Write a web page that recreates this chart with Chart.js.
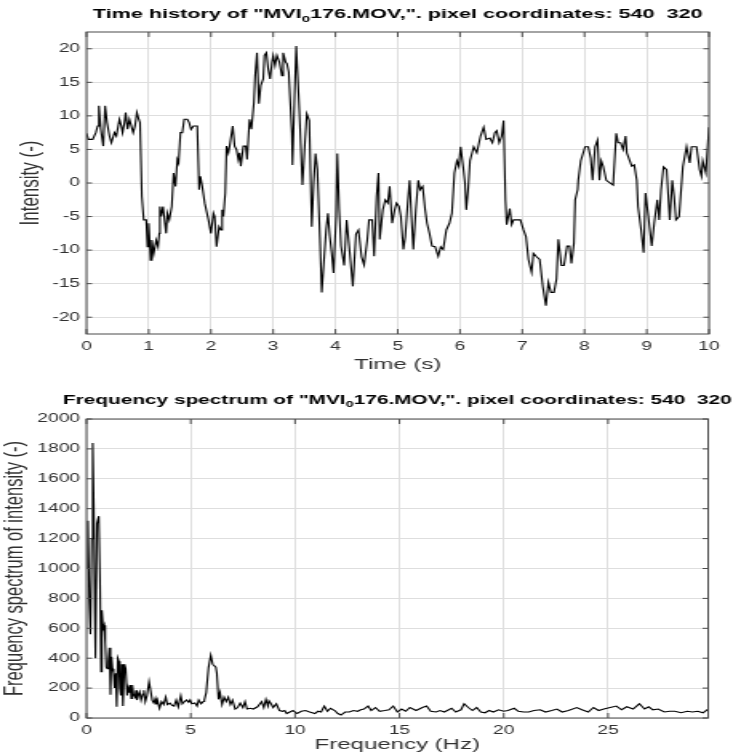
<!DOCTYPE html>
<html>
<head>
<meta charset="utf-8">
<script src="https://cdn.jsdelivr.net/npm/chart.js@4/dist/chart.umd.min.js"></script>
<style>
  body { margin: 0; background: #fff; }
  canvas { display: block; }
</style>
</head>
<body>
<!-- canvases are drawn narrow and stretched sideways, like the original figure -->
<canvas id="timeChart" width="463" height="375" style="width:741px;height:375px"></canvas>
<canvas id="freqChart" width="463" height="380" style="width:741px;height:380px"></canvas>
<script>
// Time history (s, intensity)
const timeS = [0, 0.03, 0.1, 0.15, 0.18, 0.2, 0.23, 0.27, 0.3, 0.33, 0.37, 0.4, 0.45, 0.48, 0.53, 0.56, 0.58, 0.61, 0.63, 0.66,
  0.69, 0.72, 0.75, 0.78, 0.81, 0.84, 0.86, 0.89, 0.92, 0.96, 0.98, 1.0, 1.03, 1.05, 1.08, 1.12, 1.15, 1.17, 1.18, 1.2,
  1.23, 1.26, 1.28, 1.3, 1.33, 1.37, 1.4, 1.43, 1.46, 1.48, 1.51, 1.54, 1.57, 1.62, 1.65, 1.68, 1.72, 1.78, 1.81, 1.83,
  1.86, 1.9, 1.96, 2.0, 2.04, 2.06, 2.09, 2.13, 2.16, 2.18, 2.2, 2.23, 2.25, 2.28, 2.3, 2.35, 2.38, 2.41, 2.44, 2.46,
  2.48, 2.52, 2.56, 2.58, 2.62, 2.65, 2.69, 2.71, 2.74, 2.77, 2.8, 2.84, 2.86, 2.89, 2.92, 2.95, 2.98, 3.0, 3.03, 3.06,
  3.1, 3.14, 3.16, 3.2, 3.22, 3.25, 3.3, 3.31, 3.34, 3.37, 3.42, 3.47, 3.51, 3.54, 3.58, 3.62, 3.65, 3.68, 3.71, 3.75,
  3.78, 3.82, 3.85, 3.88, 3.91, 3.94, 3.97, 4.01, 4.03, 4.06, 4.09, 4.14, 4.18, 4.22, 4.28, 4.33, 4.37, 4.42, 4.46, 4.51,
  4.54, 4.59, 4.62, 4.66, 4.69, 4.71, 4.76, 4.8, 4.84, 4.87, 4.91, 4.95, 4.98, 5.02, 5.05, 5.09, 5.12, 5.16, 5.19, 5.22,
  5.25, 5.29, 5.33, 5.36, 5.4, 5.44, 5.47, 5.51, 5.55, 5.6, 5.65, 5.69, 5.73, 5.78, 5.83, 5.87, 5.91, 5.95, 5.98, 6.01,
  6.05, 6.08, 6.1, 6.13, 6.16, 6.22, 6.27, 6.33, 6.38, 6.42, 6.48, 6.52, 6.56, 6.59, 6.63, 6.67, 6.7, 6.73, 6.75, 6.8,
  6.83, 6.86, 6.97, 7.02, 7.06, 7.1, 7.15, 7.18, 7.23, 7.28, 7.33, 7.38, 7.42, 7.46, 7.51, 7.55, 7.58, 7.63, 7.67, 7.72,
  7.76, 7.79, 7.83, 7.85, 7.89, 7.9, 7.94, 8.01, 8.06, 8.1, 8.13, 8.17, 8.21, 8.24, 8.27, 8.3, 8.35, 8.46, 8.51, 8.54,
  8.58, 8.62, 8.66, 8.68, 8.76, 8.8, 8.84, 8.86, 8.91, 8.95, 8.98, 9.02, 9.08, 9.12, 9.17, 9.2, 9.23, 9.27, 9.32, 9.37,
  9.41, 9.44, 9.47, 9.52, 9.58, 9.64, 9.69, 9.72, 9.76, 9.8, 9.85, 9.88, 9.9, 9.95, 10.0]
const intensity = [7.4, 6.5, 6.5, 7.5, 8.5, 11.5, 8, 5.5, 11.5, 9, 7, 6, 7.5, 7, 9.5, 8.5, 7.5, 9, 10.5, 8,
  9.5, 8.5, 7.5, 8.5, 10.5, 9.5, 9, -2, -5.5, -5.5, -9.5, -6, -11.5, -8.5, -10.5, -8.5, -9.5, -7.5, -3.5, -5,
  -3.5, -6, -7.5, -4.5, -5.5, -3.5, 1.5, -0.5, 3.5, 3, 7.5, 7.5, 9.5, 9.5, 9, 8, 8.5, 8.5, -1, 1,
  -0.5, -3, -5.5, -7.5, -4.5, -5, -9.5, -6.5, -7, -4, -5, -1.5, 5.5, 4.5, 5.5, 8.5, 5.5, 5, 3.5, 4.5,
  2.5, 5.5, 5.5, 3.5, 9.5, 8, 12, 16, 19.4, 11.8, 14.5, 15.5, 19, 19.4, 17, 15.5, 18, 19, 17.5, 19,
  18, 16, 19.4, 18, 17.8, 16.5, 7.4, 2.7, 12, 20.4, 10.8, -0.3, 6, 10.3, 9.3, -6.5, 0, 4.4, 2, -8,
  -16.3, -11, -7, -4.5, -8, -10.4, -13.4, -5, 4.4, -4, -9.4, -12.3, -5.5, -9.4, -15.4, -7.6, -7, -11, -12.2, -8.6,
  -5.5, -5.5, -10.9, -2, 1.5, -8.4, -4, -2.5, -3, -0.5, -6, -4, -3, -3.5, -5, -9.9, -8, -3, 0.4, -5,
  -9.9, -4, 0.4, -1, -0.5, -4, -6, -7.5, -9.4, -9.5, -10.9, -9.5, -9.9, -7, -6, -4.5, 1.5, 3.3, 2.5, 5.4,
  2.5, 0, -4, -1, 3.3, 5.4, 4.5, 7, 8.3, 6.5, 6.7, 6, 7.5, 7.8, 6, 7, 9.3, -2.5, -6.2, -3.8,
  -6.2, -5.5, -5.5, -7, -8, -11.4, -13.3, -10.5, -11, -11.4, -15.4, -18.3, -14.8, -16.3, -16.3, -14.3, -8.4, -12.3, -12.3, -9.4,
  -9.4, -12, -9, -2.5, -1, 0.4, 3.3, 5.4, 5.4, 3.7, 0.4, 5.4, 6.4, 0.4, 3.3, 2.5, 0.4, -0.3, 7.4, 6,
  6, 5, 7, 4.5, 2.5, 2.7, 0.4, -3.5, -7, -10.4, -1.5, -4.5, -9.4, -6, -2.5, -5.5, -1, 2.4, 2, -5.5,
  0.4, -2, -5.5, -5, 2.4, 5.4, 3, 5.4, 5.4, 5.4, 2, 1, 3.3, 1.5, 8.3]

// Frequency spectrum (Hz, spectrum of intensity)
const freqHz = [0, 0.07, 0.13, 0.19, 0.25, 0.3, 0.35, 0.4, 0.43, 0.5, 0.59, 0.65, 0.7, 0.74, 0.8, 0.85, 0.9, 0.95, 1.0, 1.05,
  1.1, 1.15, 1.2, 1.25, 1.3, 1.35, 1.4, 1.45, 1.5, 1.55, 1.6, 1.65, 1.7, 1.75, 1.82, 1.88, 1.95, 2.0, 2.05, 2.1,
  2.15, 2.2, 2.25, 2.33, 2.38, 2.42, 2.5, 2.55, 2.62, 2.7, 2.75, 2.82, 2.9, 3.0, 3.08, 3.15, 3.23, 3.3, 3.35, 3.4,
  3.5, 3.6, 3.7, 3.8, 3.88, 4.0, 4.1, 4.2, 4.3, 4.4, 4.52, 4.6, 4.7, 4.8, 4.9, 4.97, 5.05, 5.2, 5.3, 5.38,
  5.5, 5.6, 5.65, 5.74, 5.85, 5.96, 6.05, 6.12, 6.2, 6.25, 6.33, 6.4, 6.5, 6.6, 6.7, 6.8, 6.9, 7.0, 7.13, 7.25,
  7.37, 7.5, 7.6, 7.7, 7.85, 8.0, 8.2, 8.4, 8.5, 8.6, 8.7, 8.75, 8.85, 8.95, 9.1, 9.25, 9.4, 9.5, 9.6, 9.75,
  9.9, 10.1, 10.3, 10.5, 10.7, 10.95, 11.1, 11.25, 11.4, 11.55, 11.7, 11.9, 12.05, 12.2, 12.4, 12.6, 12.8, 13.0, 13.15, 13.3,
  13.5, 13.65, 13.85, 14.05, 14.3, 14.5, 14.7, 14.9, 15.1, 15.3, 15.5, 15.8, 16.1, 16.3, 16.5, 16.75, 16.95, 17.15, 17.5, 17.7,
  17.95, 18.1, 18.3, 18.5, 18.7, 18.9, 19.1, 19.3, 19.5, 19.75, 20.0, 20.2, 20.5, 20.7, 20.95, 21.2, 21.45, 21.75, 22.0, 22.3,
  22.55, 22.8, 23.1, 23.5, 23.75, 24.05, 24.3, 24.55, 24.8, 25.1, 25.4, 25.65, 25.9, 26.2, 26.5, 26.75, 26.95, 27.15, 27.4, 27.7,
  27.95, 28.2, 28.5, 28.8, 29.05, 29.3, 29.55, 29.8]
const spectrum = [1000, 1320, 800, 560, 1200, 1840, 1430, 700, 400, 1300, 1350, 900, 310, 720, 600, 620, 500, 340, 330, 380,
  470, 155, 410, 330, 300, 200, 300, 75, 400, 380, 200, 150, 360, 80, 360, 330, 150, 200, 170, 220,
  130, 220, 160, 140, 185, 120, 160, 175, 120, 160, 185, 110, 150, 243, 180, 120, 100, 130, 90, 120,
  65, 110, 90, 140, 90, 100, 85, 80, 120, 75, 150, 95, 110, 120, 105, 120, 95, 100, 80, 120,
  95, 110, 120, 170, 335, 420, 360, 350, 340, 300, 125, 170, 90, 140, 110, 140, 90, 120, 60, 70,
  100, 70, 110, 60, 65, 60, 75, 110, 70, 125, 80, 115, 95, 70, 95, 50, 45, 50, 30, 40,
  50, 30, 45, 50, 40, 30, 45, 40, 80, 45, 65, 50, 30, 20, 40, 40, 50, 45, 55, 60,
  80, 50, 70, 45, 50, 55, 80, 40, 60, 45, 70, 50, 70, 80, 45, 40, 50, 40, 65, 40,
  55, 95, 70, 50, 70, 40, 35, 50, 40, 55, 45, 50, 65, 45, 40, 40, 50, 55, 40, 50,
  60, 40, 50, 70, 55, 40, 70, 50, 60, 70, 80, 55, 75, 60, 95, 60, 75, 55, 60, 40,
  45, 45, 35, 45, 40, 45, 35, 60]

// axis limits and tick labels
const timeRange = [0, 10]
const timeTickValues = [0, 1, 2, 3, 4, 5, 6, 7, 8, 9, 10]
const intensityRange = [-22.5, 22.5]
const intensityTickValues = [-20, -15, -10, -5, 0, 5, 10, 15, 20]
const freqRange = [0, 29.8]
const freqTickValues = [0, 5, 10, 15, 20, 25]
const spectrumRange = [0, 2000]
const spectrumTickValues = [0, 200, 400, 600, 800, 1000, 1200, 1400, 1600, 1800, 2000]

const fileLabel = ['"MVI', '0', '176.MOV,". pixel coordinates: 540  320']

const FONT = "'Liberation Sans', Arial, Helvetica, sans-serif"
const TEXT = '#303030'

// title with a subscript, drawn over the plot area
const titlePlugin = {
  id: 'subTitle',
  afterDraw(chart, args, opts) {
    const { ctx, chartArea } = chart
    const parts = [opts.head + fileLabel[0], fileLabel[1], fileLabel[2]]
    const big = 'bold ' + opts.size + 'px ' + FONT
    const small = 'bold ' + (opts.size - 4) + 'px ' + FONT
    ctx.save()
    ctx.fillStyle = '#000'
    ctx.textBaseline = 'middle'
    ctx.font = big
    const w0 = ctx.measureText(parts[0]).width
    const w2 = ctx.measureText(parts[2]).width
    ctx.font = small
    const w1 = ctx.measureText(parts[1]).width
    let x = (chartArea.left + chartArea.right) / 2 - (w0 + w1 + w2) / 2
    ctx.font = big
    ctx.fillText(parts[0], x, opts.y)
    x += w0
    ctx.font = small
    ctx.fillText(parts[1], x, opts.y + 5)
    x += w1
    ctx.font = big
    ctx.fillText(parts[2], x, opts.y)
    ctx.restore()
  }
}

// box round the axes with inward tick marks
const boxPlugin = {
  id: 'axesBox',
  afterDraw(chart) {
    const { ctx, chartArea: a, scales: { x, y } } = chart
    ctx.save()
    ctx.strokeStyle = '#4a4a4a'
    ctx.lineWidth = 1
    ctx.strokeRect(a.left, a.top, a.right - a.left, a.bottom - a.top)
    ctx.beginPath()
    x.ticks.forEach(t => {
      const px = x.getPixelForValue(t.value)
      ctx.moveTo(px, a.bottom); ctx.lineTo(px, a.bottom - 5)
      ctx.moveTo(px, a.top); ctx.lineTo(px, a.top + 5)
    })
    y.ticks.forEach(t => {
      const py = y.getPixelForValue(t.value)
      ctx.moveTo(a.left, py); ctx.lineTo(a.left + 3.5, py)
      ctx.moveTo(a.right, py); ctx.lineTo(a.right - 3.5, py)
    })
    ctx.stroke()
    ctx.restore()
  }
}

function makeChart(id, xs, ys, cfg) {
  const points = xs.map((v, i) => ({ x: v, y: ys[i] }))
  return new Chart(document.getElementById(id), {
    type: 'line',
    data: {
      datasets: [{
        data: points,
        borderColor: '#000',
        borderWidth: 1.1,
        pointRadius: 0,
        tension: 0,
      }],
    },
    plugins: [titlePlugin, boxPlugin],
    options: {
      responsive: false,
      devicePixelRatio: 1,
      animation: false,
      layout: { padding: cfg.padding },
      plugins: {
        legend: { display: false },
        tooltip: { enabled: false },
        subTitle: { head: cfg.head, y: cfg.titleY, size: cfg.titleSize },
      },
      scales: {
        x: {
          type: 'linear',
          min: cfg.xRange[0],
          max: cfg.xRange[1],
          afterFit: s => { s.height = cfg.xHeight },
          afterBuildTicks: s => { s.ticks = cfg.xTicks.map(v => ({ value: v })) },
          ticks: { maxRotation: 0, autoSkip: false, padding: 5, color: TEXT, font: { family: FONT, size: 12 }, callback: v => String(v) },
          grid: { color: '#dedede', drawTicks: false },
          border: { display: false },
          title: { display: true, text: cfg.xTitle, color: TEXT, padding: { top: 0, bottom: cfg.xTitlePad }, font: { family: FONT, size: 15 } },
        },
        y: {
          min: cfg.yRange[0],
          max: cfg.yRange[1],
          afterFit: s => { s.width = 54 },
          afterBuildTicks: s => { s.ticks = cfg.yTicks.map(v => ({ value: v })) },
          ticks: { autoSkip: false, padding: 4, color: TEXT, font: { family: FONT, size: 12 }, callback: v => String(v) },
          grid: { color: '#dedede', drawTicks: false },
          border: { display: false },
          title: { display: true, text: cfg.yTitle, color: TEXT, padding: { top: cfg.yTitlePad, bottom: 0 }, font: { family: FONT, size: cfg.yTitleSize } },
        },
      },
    },
  })
}

makeChart('timeChart', timeS, intensity, {
  head: 'Time history of ',
  titleY: 14,
  titleSize: 13.5,
  padding: { top: 32, right: 20, left: 0, bottom: 0 },
  xRange: timeRange,
  xTicks: timeTickValues,
  yRange: intensityRange,
  yTicks: intensityTickValues,
  xHeight: 41,
  xTitle: 'Time (s)',
  xTitlePad: 1,
  yTitle: 'Intensity (-)',
  yTitleSize: 17,
  yTitlePad: 9,
})

makeChart('freqChart', freqHz, spectrum, {
  head: 'Frequency spectrum of ',
  titleY: 25,
  titleSize: 13,
  padding: { top: 44, right: 20.5, left: 0, bottom: 0 },
  xRange: freqRange,
  xTicks: freqTickValues,
  yRange: spectrumRange,
  yTicks: spectrumTickValues,
  xHeight: 37,
  xTitle: 'Frequency (Hz)',
  xTitlePad: 1,
  yTitle: 'Frequency spectrum of intensity (-)',
  yTitleSize: 16.5,
  yTitlePad: 0,
})
</script>
</body>
</html>
